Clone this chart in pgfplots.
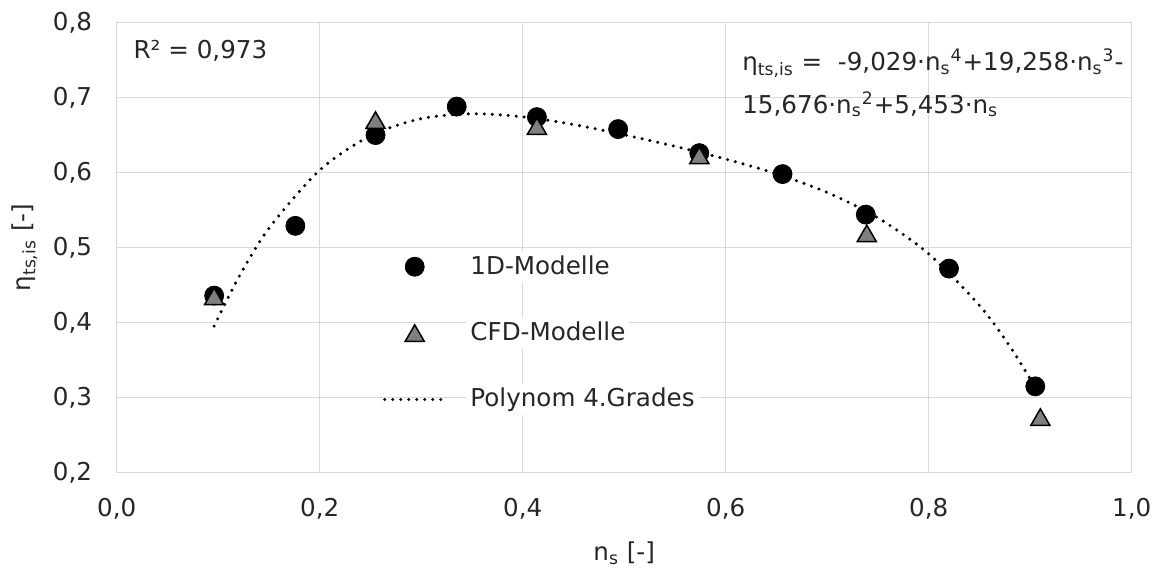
\documentclass[border=0pt]{standalone}
\usepackage{fontspec}
\setmainfont{DejaVu Sans}
\usepackage{pgfplots}
\usepackage{pgfplotstable}
\pgfplotsset{compat=1.18}
\definecolor{gridgray}{RGB}{217,217,217}
\definecolor{trigray}{RGB}{128,128,128}
\definecolor{txt}{RGB}{38,38,38}
\pgfplotsset{
  mylegmark/.style={legend image code/.code={\draw[mark repeat=2,mark phase=2,##1] plot coordinates {(0pt,0pt) (15pt,0pt) (30pt,0pt)};}},
  myleglinee/.style={legend image code/.code={\draw[##1] (0pt,0pt) -- (30pt,0pt);}},
}

\pgfplotstableread{
x y
0.096 0.436
0.176 0.529
0.255 0.650
0.335 0.688
0.414 0.674
0.494 0.658
0.574 0.626
0.656 0.598
0.738 0.544
0.820 0.472
0.905 0.315
}\oned

\pgfplotstableread{
x y
0.096 0.435
0.255 0.670
0.414 0.662
0.574 0.623
0.739 0.519
0.910 0.274
}\cfd

\pgfplotstableread{
x y
0.096 0.3953
0.12 0.4600
0.15 0.5257
0.2 0.6032
0.25 0.6491
0.3 0.6719
0.35 0.6784
0.4 0.6744
0.45 0.6641
0.5 0.6504
0.55 0.6350
0.6 0.6180
0.65 0.5983
0.7 0.5735
0.75 0.5396
0.8 0.4916
0.85 0.4228
0.88 0.3683
0.905 0.3136
}\trend

\begin{document}
\fontsize{12.3}{15}\selectfont
\begin{tikzpicture}
\useasboundingbox (-58.35pt,-47.2pt) rectangle (521.65pt,236.3pt);
\begin{axis}[
  scale only axis, width=507.5pt, height=225pt,
  xmin=0, xmax=1, ymin=0.2, ymax=0.8,
  xtick={0,0.2,0.4,0.6,0.8,1},
  ytick={0.2,0.3,0.4,0.5,0.6,0.7,0.8},
  grid=major,
  major grid style={gridgray, line width=0.75pt},
  axis line style={gridgray, line width=0.75pt},
  tick style={draw=none},
  /pgf/number format/.cd, use comma, fixed, fixed zerofill, precision=1, assume math mode=true,
  /pgfplots/.cd,
  ticklabel style={text=txt},
  xticklabel style={yshift=-8.5pt},
  yticklabel style={xshift=-8pt},
  xlabel={n\textsubscript{s} [-]},
  ylabel={η\textsubscript{ts,is} [-]},
  xlabel style={at={(axis description cs:0.5,-0.1787)}, anchor=center, text=txt},
  ylabel style={at={(axis description cs:-0.0908,0.5)}, anchor=center, text=txt},
  legend cell align=left,
  legend style={at={(axis cs:0.262,0.386)}, anchor=west, draw=none, fill=none,
    inner sep=0pt, row sep=18pt, text=txt,
    nodes={fill=white, inner sep=2pt},
    /tikz/every odd column/.append style={column sep=10pt}},
]
\addplot[only marks, mark=*, mark size=4.75pt, mark options={fill=black, draw=black}, mylegmark]
  table[x=x,y=y] {\oned};
\addlegendentry{1D-Modelle}
\addplot[only marks, mark=triangle*, mark size=5.5pt,
  mark options={fill=trigray, draw=black, line width=0.75pt, yshift=-1.375pt}, mylegmark]
  table[x=x,y=y] {\cfd};
\addlegendentry{CFD-Modelle}
\addplot[smooth, black, line width=1.7pt, line cap=round, dash pattern=on 0pt off 4pt, myleglinee]
  table[x=x,y=y] {\trend};
\addlegendentry{Polynom 4.Grades}
\node[anchor=base west, inner sep=0pt, text=txt] at (axis cs:0.0163,0.752) {R² = 0,973};
\node[anchor=base west, inner sep=0pt, text=txt] at (axis cs:0.616,0.736)
  {η\textsubscript{ts,is} =\ \ -9,029·n\textsubscript{s}\textsuperscript{4}+19,258·n\textsubscript{s}\textsuperscript{3}-};
\node[anchor=base west, inner sep=0pt, text=txt] at (axis cs:0.616,0.679)
  {15,676·n\textsubscript{s}\textsuperscript{2}+5,453·n\textsubscript{s}};
\end{axis}
\end{tikzpicture}
\end{document}
